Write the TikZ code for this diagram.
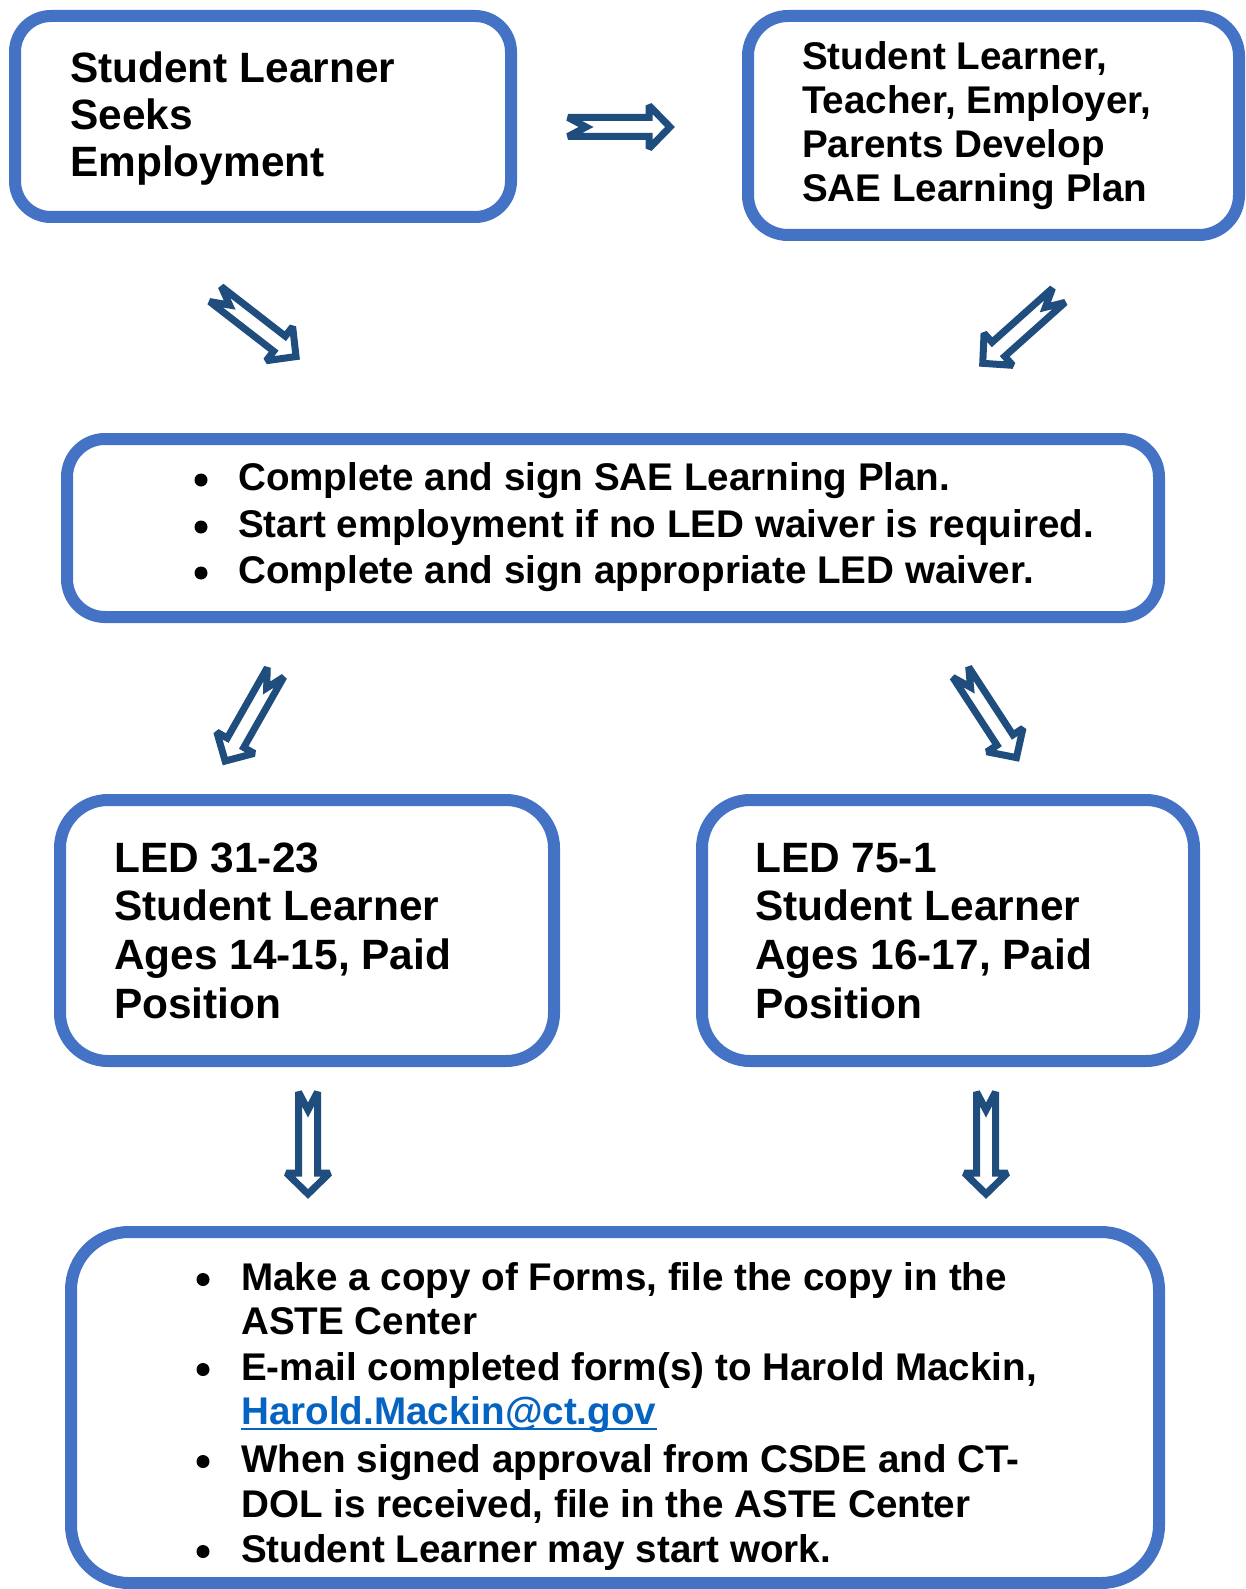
\documentclass[tikz,border=0pt]{standalone}
\usepackage{fontspec}
\setmainfont{Liberation Sans}
\definecolor{boxblue}{RGB}{68,114,196}
\definecolor{arrowblue}{RGB}{31,77,126}
\definecolor{linkblue}{RGB}{5,99,193}
\tikzset{
  box/.style={draw=boxblue, line width=12pt, fill=white, rectangle, inner sep=0pt},
  arrowline/.style={draw=arrowblue, line width=7pt, fill=white, line join=miter, miter limit=2.5},
  barrow/.pic={\path[arrowline] (5,9.5) -- (86,9.5) -- (86,21.5) -- (107,0) -- (86,-21.5) -- (86,-9.5) -- (5,-9.5) -- (23,0) -- cycle;},
  bigtxt/.style={anchor=base west, inner sep=0pt, font=\bfseries\fontsize{42.4}{48}\selectfont},
  midtxt/.style={anchor=base west, inner sep=0pt, font=\bfseries\fontsize{38.6}{44}\selectfont},
  lowtxt/.style={anchor=base west, inner sep=0pt, font=\bfseries\fontsize{38.6}{44}\selectfont},
  dot/.style={circle, fill=black, inner sep=0pt, minimum size=13pt}
}
\begin{document}
\begin{tikzpicture}[x=1pt,y=-1pt]
\useasboundingbox (0,0) rectangle (1245,1589);

% boxes
\node[box, minimum width=496, minimum height=201, rounded corners=36pt] (b1) at (263,116.5) {};
\node[box, minimum width=491, minimum height=219, rounded corners=40pt] (b2) at (993.5,125.5) {};
\node[box, minimum width=1092, minimum height=178, rounded corners=38pt] (b3) at (613,528) {};
\node[box, minimum width=494, minimum height=261, rounded corners=48pt] (b4) at (307,930.5) {};
\node[box, minimum width=492, minimum height=261, rounded corners=48pt] (b5) at (948,930.5) {};
\node[box, minimum width=1088, minimum height=351, rounded corners=58pt] (b6) at (615,1407.5) {};

% box 1 text
\node[bigtxt] (t11) at (70,83) {Student Learner};
\node[bigtxt] (t12) at (70,130) {Seeks};
\node[bigtxt] (t13) at (70,177) {Employment};

% box 2 text
\node[midtxt] (t21) at (802,70) {Student Learner,};
\node[midtxt] (t22) at (802,114) {Teacher, Employer,};
\node[midtxt] (t23) at (802,158) {Parents Develop};
\node[midtxt] (t24) at (802,202) {SAE Learning Plan};

% box 3 text
\node[dot] (d31) at (201,480) {};
\node[dot] (d32) at (201,527) {};
\node[dot] (d33) at (201,573) {};
\node[midtxt] (t31) at (238,490) {Complete and sign SAE Learning Plan.};
\node[midtxt] (t32) at (238,537) {Start employment if no LED waiver is required.};
\node[midtxt] (t33) at (238,583) {Complete and sign appropriate LED waiver.};

% box 4 text
\node[bigtxt] (t41) at (114,872) {LED 31-23};
\node[bigtxt] (t42) at (114,920) {Student Learner};
\node[bigtxt] (t43) at (114,969) {Ages 14-15, Paid};
\node[bigtxt] (t44) at (114,1018) {Position};

% box 5 text
\node[bigtxt] (t51) at (755,872) {LED 75-1};
\node[bigtxt] (t52) at (755,920) {Student Learner};
\node[bigtxt] (t53) at (755,969) {Ages 16-17, Paid};
\node[bigtxt] (t54) at (755,1018) {Position};

% box 6 text
\node[dot] (d61) at (203,1279.5) {};
\node[dot] (d62) at (203,1369.5) {};
\node[dot] (d63) at (203,1461.5) {};
\node[dot] (d64) at (203,1551.5) {};
\node[lowtxt] (t61) at (241,1290) {Make a copy of Forms, file the copy in the};
\node[lowtxt] (t62) at (241,1334) {ASTE Center};
\node[lowtxt] (t63) at (241,1380) {E-mail completed form(s) to Harold Mackin,};
\node[lowtxt, text=linkblue] (t64) at (241,1424) {Harold.Mackin@ct.gov};
\draw[linkblue, line width=2.6pt] ([yshift=-5pt]t64.base west) -- ([yshift=-5pt]t64.base east);
\node[lowtxt] (t65) at (241,1472) {When signed approval from CSDE and CT-};
\node[lowtxt] (t66) at (241,1517) {DOL is received, file in the ASTE Center};
\node[lowtxt] (t67) at (241,1562) {Student Learner may start work.};

% block arrows
\coordinate (a1) at (563,127);
\coordinate (a2) at (211.5,291);
\coordinate (a3) at (1062.5,292);
\coordinate (a4) at (278,668);
\coordinate (a5) at (958,668);
\coordinate (a6) at (308,1087);
\coordinate (a7) at (986,1087);
\pic[rotate=0] at (a1) {barrow};
\pic[rotate=-37.8] at (a2) {barrow};
\pic[rotate=-138.2] at (a3) {barrow};
\pic[rotate=-119.6] at (a4) {barrow};
\pic[rotate=-56.9] at (a5) {barrow};
\pic[rotate=-90] at (a6) {barrow};
\pic[rotate=-90] at (a7) {barrow};
\end{tikzpicture}
\end{document}
